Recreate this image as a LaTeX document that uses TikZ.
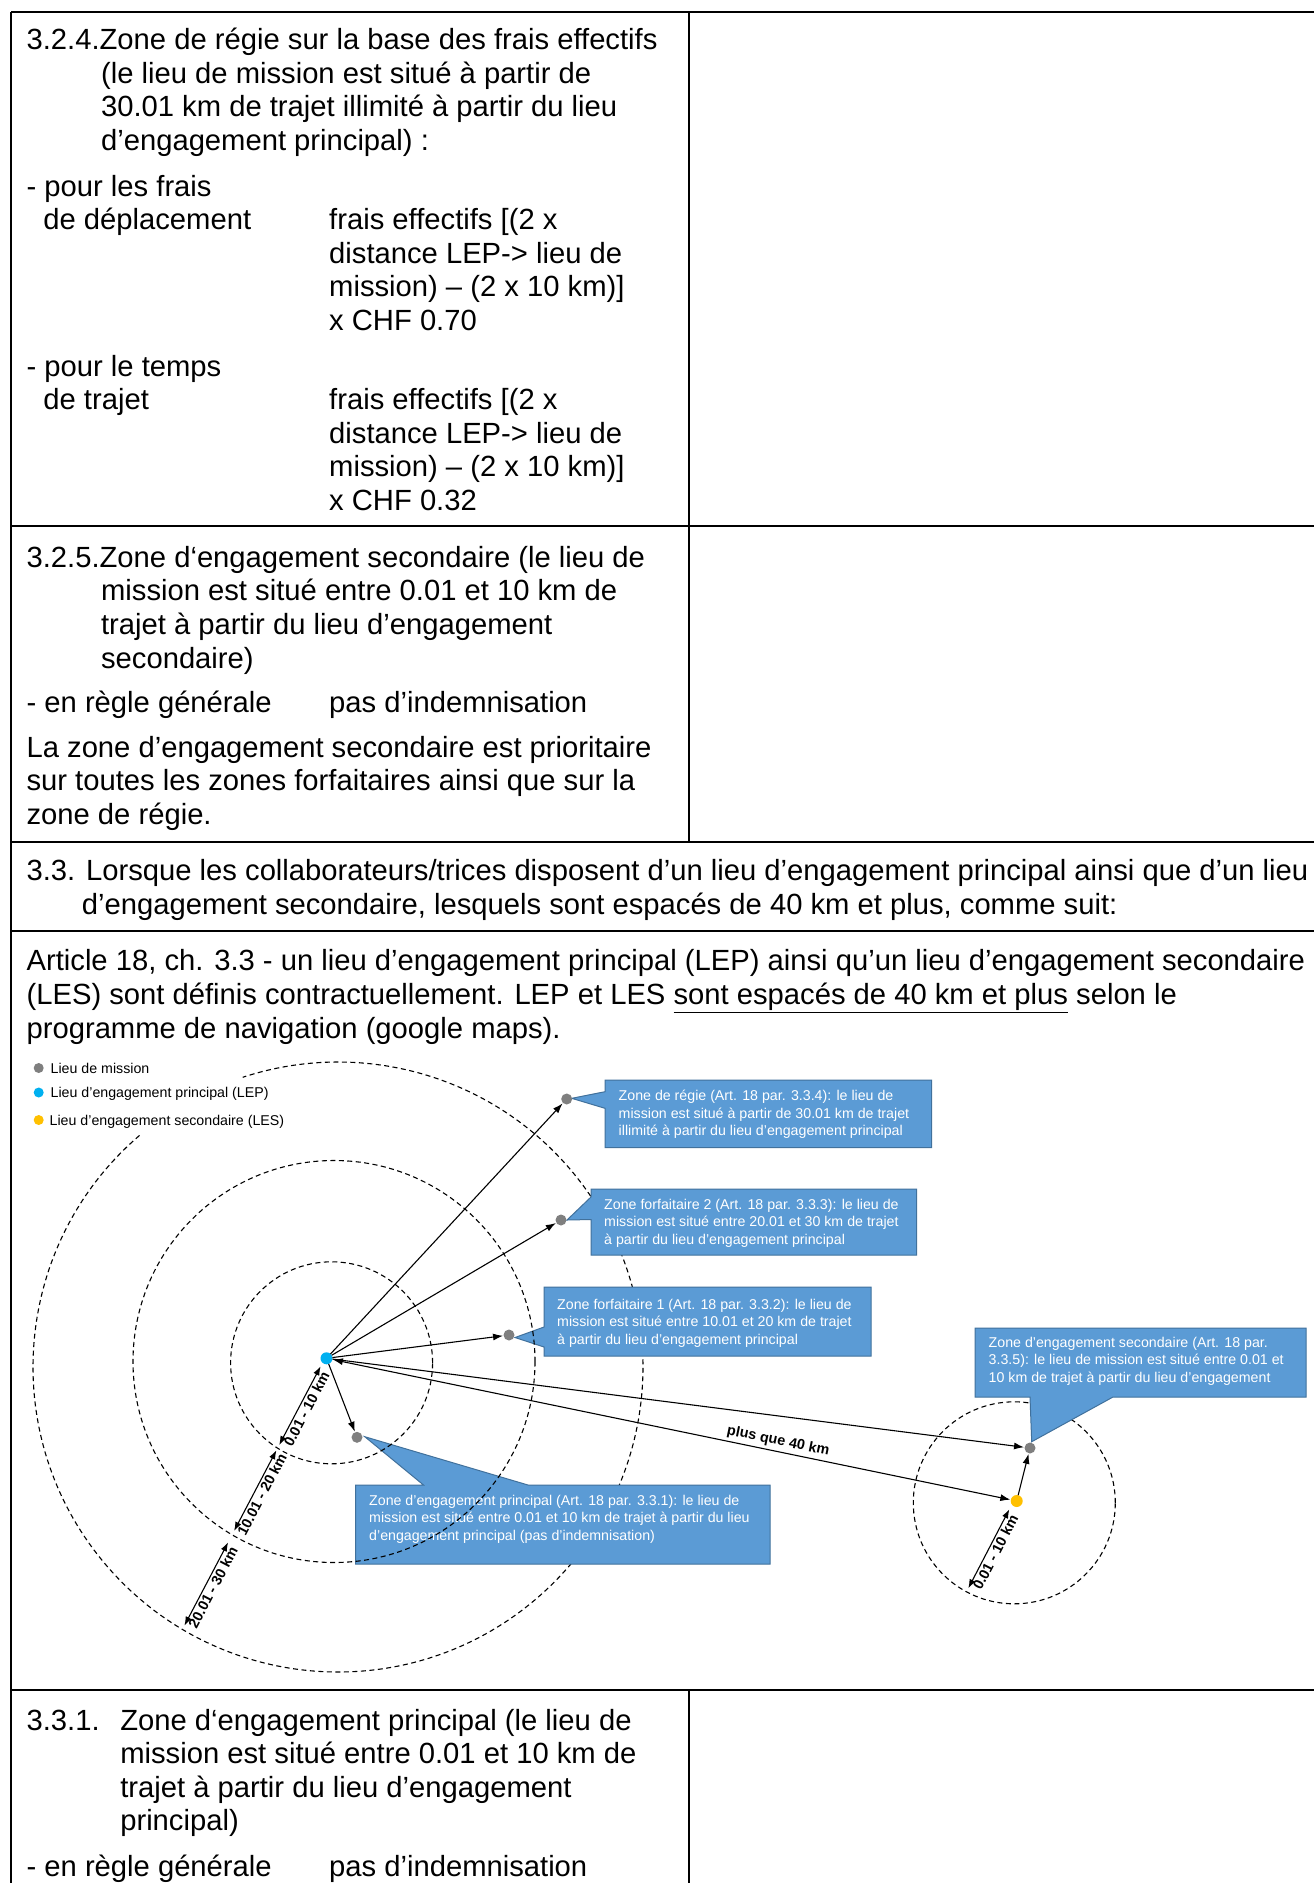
\documentclass[tikz,border=0pt]{standalone}
\usepackage{fontspec}
\setmainfont{Liberation Sans}
\usetikzlibrary{arrows.meta,calc}
\definecolor{callfill}{RGB}{91,155,213}
\definecolor{calldraw}{RGB}{65,113,156}
\definecolor{dotgray}{RGB}{127,127,127}
\definecolor{lepblue}{RGB}{0,176,240}
\definecolor{lesorange}{RGB}{255,192,0}
\begin{document}
\begin{tikzpicture}[x=1pt,y=-1pt,
  txt/.style={anchor=base west,inner sep=0pt,font=\fontsize{29.2}{33.6}\selectfont},
  ctxt/.style={anchor=base west,inner sep=0pt,text=white,font=\fontsize{14.2}{17.5}\selectfont},
  legtxt/.style={anchor=base west,inner sep=0pt,font=\fontsize{14.2}{17.5}\selectfont},
  rule/.style={line width=1.6pt},
  callout/.style={fill=callfill,draw=calldraw,line width=1pt},
  dcirc/.style={line width=1.1pt,dash pattern=on 5pt off 3.5pt},
  mdot/.style={circle,fill=dotgray,inner sep=0pt,minimum size=11pt,outer sep=0pt},
  lepdot/.style={circle,fill=lepblue,inner sep=0pt,minimum size=12pt,outer sep=0pt},
  lesdot/.style={circle,fill=lesorange,inner sep=0pt,minimum size=12pt,outer sep=0pt},
  conn/.style={line width=1.1pt,-{Latex[length=10pt,width=7pt]},shorten >=0.5pt},
  conntwo/.style={line width=1.1pt,{Latex[length=10pt,width=7pt]}-{Latex[length=10pt,width=7pt]},shorten >=0.5pt,shorten <=0.5pt},
  dimarrow/.style={line width=1.1pt,{Latex[length=9pt,width=6.5pt]}-{Latex[length=9pt,width=6.5pt]}},
  dimlbl/.style={inner sep=2pt,font=\bfseries\fontsize{14.4}{16}\selectfont}
]
\useasboundingbox (0,0) rectangle (1314,1883);
\fill[white] (0,0) rectangle (1314,1883);

% ---------------- table rules ----------------
\draw[rule] (11,12) -- (1314,12);
\draw[rule] (11,526) -- (1314,526);
\draw[rule] (11,842) -- (1314,842);
\draw[rule] (11,931) -- (1314,931);
\draw[rule] (11,1690) -- (1314,1690);
\draw[rule] (11,12) -- (11,1883);
\draw[rule] (689,12) -- (689,842);
\draw[rule] (689,1690) -- (689,1883);

% ---------------- row 1 ----------------
\node[txt] (r1a) at (26.4,49.5) {3.2.4.Zone de régie sur la base des frais effectifs};
\node[txt] (r1b) at (100.9,83.1) {(le lieu de mission est situé à partir de};
\node[txt] (r1c) at (100.9,116.7) {30.01 km de trajet illimité à partir du lieu};
\node[txt] (r1d) at (100.9,150.3) {d’engagement principal) :};
\node[txt] (r1e) at (26.4,196) {- pour les frais};
\node[txt] (r1f) at (43.2,229.6) {de déplacement};
\node[txt] (r1g) at (329,229.6) {frais effectifs [(2 x};
\node[txt] (r1h) at (329,263.2) {distance LEP-> lieu de};
\node[txt] (r1i) at (329,296.8) {mission) – (2 x 10 km)]};
\node[txt] (r1j) at (329,330.4) {x CHF 0.70};
\node[txt] (r1k) at (26.4,376) {- pour le temps};
\node[txt] (r1l) at (43.2,409.6) {de trajet};
\node[txt] (r1m) at (329,409.6) {frais effectifs [(2 x};
\node[txt] (r1n) at (329,443.2) {distance LEP-> lieu de};
\node[txt] (r1o) at (329,476.8) {mission) – (2 x 10 km)]};
\node[txt] (r1p) at (329,510.4) {x CHF 0.32};

% ---------------- row 2 ----------------
\node[txt] (r2a) at (26.4,567.3) {3.2.5.Zone d‘engagement secondaire (le lieu de};
\node[txt] (r2b) at (100.9,600.9) {mission est situé entre 0.01 et 10 km de};
\node[txt] (r2c) at (100.9,634.5) {trajet à partir du lieu d’engagement};
\node[txt] (r2d) at (100.9,668.1) {secondaire)};
\node[txt] (r2e) at (26.4,712.6) {- en règle générale};
\node[txt] (r2f) at (329,712.6) {pas d’indemnisation};
\node[txt] (r2g) at (26.4,757) {La zone d’engagement secondaire est prioritaire};
\node[txt] (r2h) at (26.4,790.6) {sur toutes les zones forfaitaires ainsi que sur la};
\node[txt] (r2i) at (26.4,824.2) {zone de régie.};

% ---------------- row 3 ----------------
\node[txt] (r3a) at (26.4,880.8) {3.3. Lorsque les collaborateurs/trices disposent d’un lieu d’engagement principal ainsi que d’un lieu};
\node[txt] (r3b) at (81.7,914.4) {d’engagement secondaire, lesquels sont espacés de 40 km et plus, comme suit:};

% ---------------- row 4 ----------------
\node[txt] (r4a) at (26.4,970.9) {Article 18, ch. 3.3 - un lieu d’engagement principal (LEP) ainsi qu’un lieu d’engagement secondaire};
\node[txt] (r4b) at (26.4,1004.5) {(LES) sont définis contractuellement. LEP et LES \underline{sont espacés de 40 km et plus} selon le};
\node[txt] (r4c) at (26.4,1038.1) {programme de navigation (google maps).};

% ---------------- row 5 ----------------
\node[txt] (r5a) at (26.4,1730) {3.3.1.};
\node[txt] (r5b) at (120.1,1730) {Zone d‘engagement principal (le lieu de};
\node[txt] (r5c) at (120.1,1763.6) {mission est situé entre 0.01 et 10 km de};
\node[txt] (r5d) at (120.1,1797.2) {trajet à partir du lieu d’engagement};
\node[txt] (r5e) at (120.1,1830.8) {principal)};
\node[txt] (r5f) at (26.4,1876.4) {- en règle générale};
\node[txt] (r5g) at (329,1876.4) {pas d’indemnisation};

% ---------------- diagram ----------------
\coordinate (c1) at (331.6,1362.8);
\coordinate (c2) at (334,1361.5);
\coordinate (c3) at (338,1367);
\coordinate (c4) at (1014.3,1502.8);

% outer circle (with gap behind legend) and secondary circle
\draw[dcirc] (c3) ++(130.6:305pt) arc[start angle=130.6,end angle=468.2,radius=305pt];
\draw[dcirc] (c4) circle[radius=101pt];

% callouts
\filldraw[callout] (605,1080) -- (931.5,1080) -- (931.5,1147.5) -- (605,1147.5) -- (605,1108.3) -- (571.7,1098.3) -- (605,1091.7) -- cycle;
\filldraw[callout] (591,1189) -- (916.5,1189) -- (916.5,1255) -- (591,1255) -- (591,1219.5) -- (567,1220) -- (591,1197) -- cycle;
\filldraw[callout] (544,1287) -- (871,1287) -- (871,1356) -- (544,1356) -- (544,1347) -- (515,1337.5) -- (544,1327) -- cycle;
\filldraw[callout] (355.5,1485) -- (423.5,1485) -- (364.8,1436.7) -- (528,1485) -- (770,1485) -- (770,1564) -- (355.5,1564) -- cycle;
\filldraw[callout] (975,1328) -- (1306,1328) -- (1306,1397) -- (1113,1397) -- (1031.7,1441.7) -- (1030,1397) -- (975,1397) -- cycle;

\node[ctxt] (ta1) at (618.5,1100.5) {Zone de régie (Art. 18 par. 3.3.4): le lieu de};
\node[ctxt] (ta2) at (618.5,1118) {mission est situé à partir de 30.01 km de trajet};
\node[ctxt] (ta3) at (618.5,1135.5) {illimité à partir du lieu d’engagement principal};
\node[ctxt] (tb1) at (604,1209) {Zone forfaitaire 2 (Art. 18 par. 3.3.3): le lieu de};
\node[ctxt] (tb2) at (604,1226.5) {mission est situé entre 20.01 et 30 km de trajet};
\node[ctxt] (tb3) at (604,1244) {à partir du lieu d’engagement principal};
\node[ctxt] (tc1) at (557,1309) {Zone forfaitaire 1 (Art. 18 par. 3.3.2): le lieu de};
\node[ctxt] (tc2) at (557,1326.5) {mission est situé entre 10.01 et 20 km de trajet};
\node[ctxt] (tc3) at (557,1344) {à partir du lieu d’engagement principal};
\node[ctxt] (td1) at (369,1505) {Zone d’engagement principal (Art. 18 par. 3.3.1): le lieu de};
\node[ctxt] (td2) at (369,1522.5) {mission est situé entre 0.01 et 10 km de trajet à partir du lieu};
\node[ctxt] (td3) at (369,1540) {d’engagement principal (pas d’indemnisation)};
\node[ctxt] (te1) at (988.5,1347) {Zone d’engagement secondaire (Art. 18 par.};
\node[ctxt] (te2) at (988.5,1364.5) {3.3.5): le lieu de mission est situé entre 0.01 et};
\node[ctxt] (te3) at (988.5,1382) {10 km de trajet à partir du lieu d’engagement};

% inner circles (on top of callouts)
\draw[dcirc] (c1) circle[radius=101pt];
\draw[dcirc] (c2) circle[radius=201pt];

% dots
\node[mdot] (m1) at (566.7,1099) {};
\node[mdot] (m2) at (561,1220) {};
\node[mdot] (m3) at (509,1335) {};
\node[mdot] (m4) at (357,1437.3) {};
\node[mdot] (m5) at (1030,1448) {};
\node[lepdot] (lep) at (326.5,1358.3) {};
\node[lesdot] (les) at (1016.7,1501) {};

% arrows
\draw[conn] (lep) -- (m1);
\draw[conn] (lep) -- (m2);
\draw[conn] (lep) -- (m3);
\draw[conn] (lep) -- (m4);
\draw[conn] (lep) -- (m5);
\draw[conntwo] (lep) -- node[pos=0.654,sloped,above,inner sep=3pt,font=\bfseries\fontsize{14.4}{16}\selectfont] (l40) {plus que 40 km} (les);
\draw[conn] (les) -- (m5);

% dimension arrows
\coordinate (da1) at (320.6,1366.3);
\coordinate (da2) at (279.2,1445.0);
\coordinate (db1) at (276.4,1450.3);
\coordinate (db2) at (234.1,1530.9);
\coordinate (dc1) at (228.1,1542.4);
\coordinate (dc2) at (184.4,1625.6);
\coordinate (dd1) at (1009.3,1509.3);
\coordinate (dd2) at (968.3,1588.3);
\draw[dimarrow] (da1) -- (da2);
\draw[dimarrow] (db1) -- (db2);
\draw[dimarrow] (dc1) -- (dc2);
\draw[dimarrow] (dd1) -- (dd2);
\node[dimlbl,rotate=62.3,anchor=north] (lda) at ($(da1)!0.5!(da2)$) {0.01 - 10 km};
\node[dimlbl,rotate=62.3,anchor=north] (ldb) at ($(db1)!0.5!(db2)$) {10.01 - 20 km};
\node[dimlbl,rotate=62.3,anchor=north] (ldc) at ($(dc1)!0.5!(dc2)$) {20.01 - 30 km};
\node[dimlbl,rotate=62.6,anchor=north] (ldd) at ($(dd1)!0.5!(dd2)$) {0.01 - 10 km};

% legend
\node[circle,fill=dotgray,inner sep=0pt,minimum size=10pt] (lg1) at (38.7,1068) {};
\node[circle,fill=lepblue,inner sep=0pt,minimum size=10pt] (lg2) at (38.7,1092.5) {};
\node[circle,fill=lesorange,inner sep=0pt,minimum size=10pt] (lg3) at (38.7,1120) {};
\node[legtxt] (lt1) at (50.5,1073) {Lieu de mission};
\node[legtxt] (lt2) at (50.5,1097.5) {Lieu d’engagement principal (LEP)};
\node[legtxt] (lt3) at (49.5,1125) {Lieu d’engagement secondaire (LES)};
\end{tikzpicture}
\end{document}
